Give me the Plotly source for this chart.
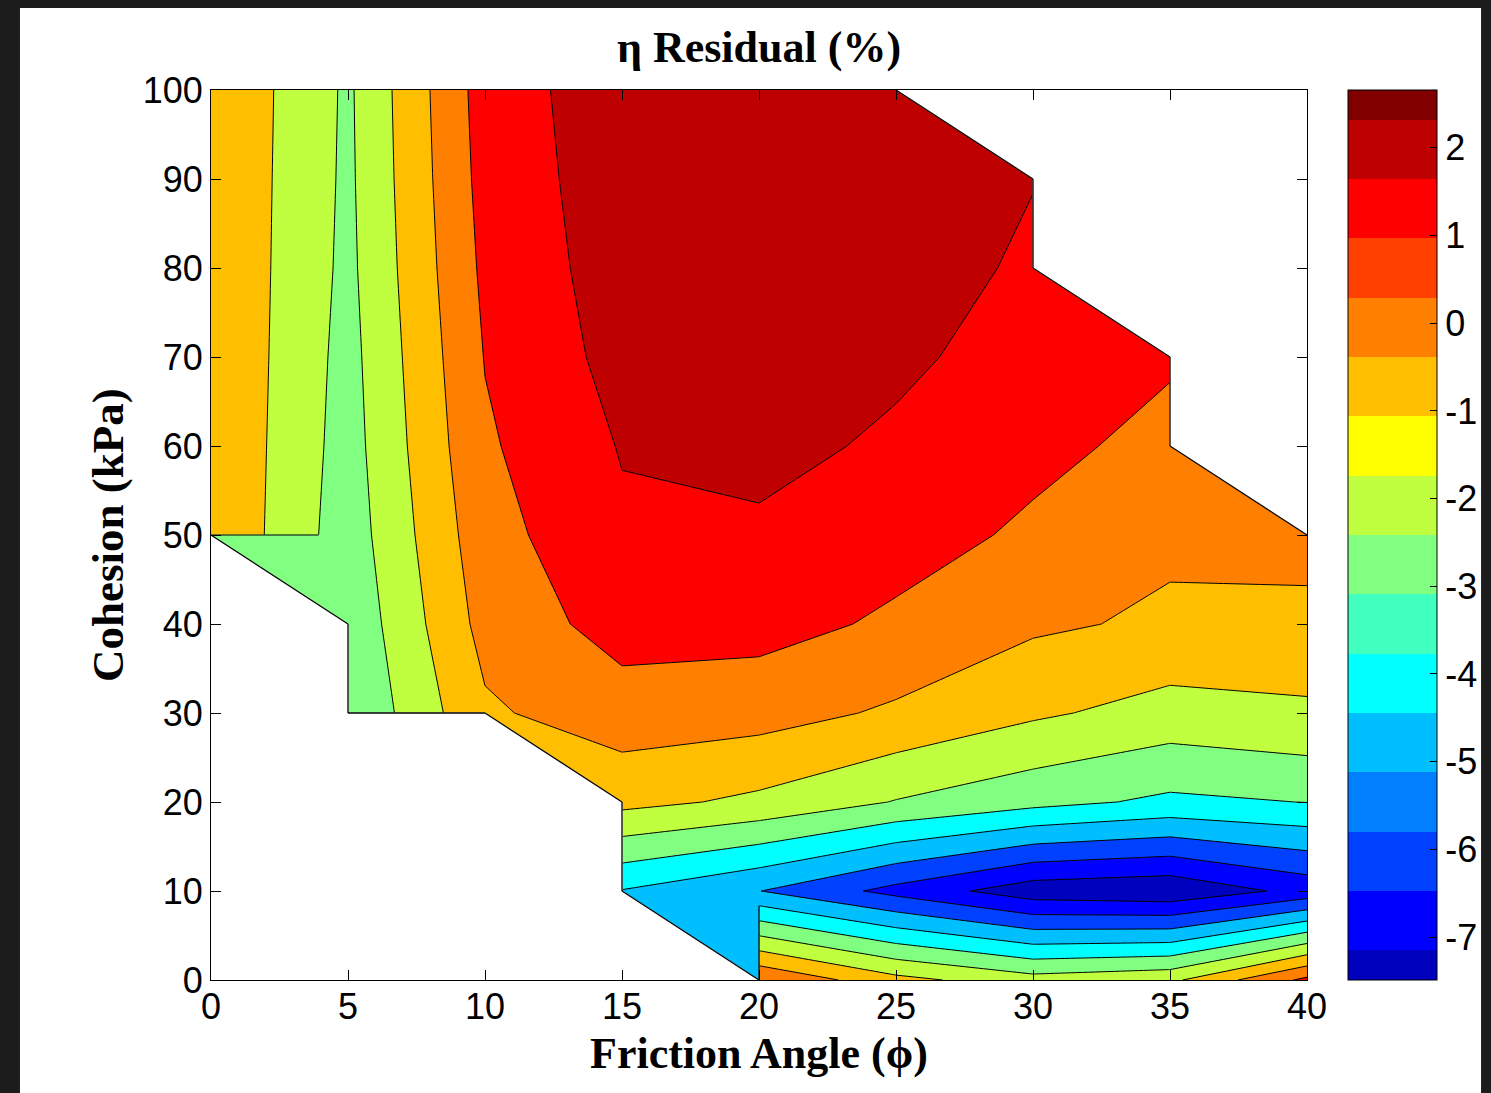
import numpy as np
import plotly.graph_objects as go

# ---------------- data ----------------
friction_angle = [0, 5, 10, 15, 20, 25, 30, 35, 40]          # x grid (deg)
cohesion = [0, 10, 20, 30, 40, 50, 60, 70, 80, 90, 100]        # y grid (kPa)
nan = None
# eta residual (%) along each cohesion row, columns follow friction_angle
res_c0 = [nan, nan, nan, nan, 0.95, -0.69, -1.60, -1.23, 1.25]
res_c10 = [nan, nan, nan, -4.05, -4.98, -6.32, -7.58, -7.80, -6.67]
res_c20 = [nan, nan, nan, -0.70, -1.21, -2.05, -2.68, -3.20, -2.98]
res_c30 = [nan, -2.95, -0.15, 0.55, 0.40, -0.15, -0.84, -1.38, -1.10]
res_c40 = [nan, -2.76, 0.34, 1.40, 1.35, 0.84, 0.16, -0.16, -0.56]
res_c50 = [-0.02, -2.54, 0.61, 1.84, 1.81, 1.37, 0.85, 0.18, 0.74]
res_c60 = [-0.03, -2.42, 0.86, 2.06, 2.34, 1.81, 1.23, 0.75, nan]
res_c70 = [-0.02, -2.34, 1.04, 2.34, 2.50, 2.21, 1.55, 1.10, nan]
res_c80 = [-0.04, -2.24, 1.21, 2.48, 2.58, 2.43, 1.85, nan, nan]
res_c90 = [-0.04, -2.19, 1.35, 2.55, 2.62, 2.45, 2.03, nan, nan]
res_c100 = [-0.02, -2.16, 1.45, 2.60, 2.66, 2.40, nan, nan, nan]

contour_levels = [-7, -6, -5, -4, -3, -2, -1, 0, 1, 2]
colorbar_ticks = [-7, -6, -5, -4, -3, -2, -1, 0, 1, 2]
colorbar_limits = [-7.49, 2.66]
x_ticks = [0, 5, 10, 15, 20, 25, 30, 35, 40]
y_ticks = [0, 10, 20, 30, 40, 50, 60, 70, 80, 90, 100]

# MATLAB jet(16)
jet16 = ["#0000BF", "#0000FF", "#0040FF", "#0080FF", "#00BFFF", "#00FFFF",
         "#40FFBF", "#80FF80", "#BFFF40", "#FFFF00", "#FFBF00", "#FF8000",
         "#FF4000", "#FF0000", "#BF0000", "#800000"]

# ---------------- build ----------------
Z = np.array([res_c0, res_c10, res_c20, res_c30, res_c40, res_c50,
              res_c60, res_c70, res_c80, res_c90, res_c100], dtype=float)
ny, nx = Z.shape
cmin, cmax = colorbar_limits
levels = np.array(contour_levels, dtype=float)

# band colours: band value mapped onto the 16-colour map like MATLAB does
band_lows = [cmin] + contour_levels
band_cols = [jet16[int(round((v - cmin) / (cmax - cmin) * 15))] for v in band_lows]
nb = len(band_cols)
fill_scale = [[k / (nb - 1), c] for k, c in enumerate(band_cols)]


def band_of(v):
    return int(np.searchsorted(levels, v, side="right"))


# colourbar scale: 16 colours, half-width bands at both ends
cb_scale = []
for k, c in enumerate(jet16):
    lo = 0.0 if k == 0 else (k - 0.5) / 15
    hi = 1.0 if k == 15 else (k + 0.5) / 15
    cb_scale.append([lo, c])
    cb_scale.append([hi, c])

z_plot = [[None if np.isnan(v) else float(v) for v in row] for row in Z]

fig = go.Figure()
fig.add_trace(go.Contour(
    x=friction_angle, y=cohesion, z=z_plot, connectgaps=True,
    contours=dict(start=contour_levels[0], end=contour_levels[-1],
                  size=contour_levels[1] - contour_levels[0],
                  coloring="fill", showlines=True),
    line=dict(color="black", width=1, smoothing=0),
    colorscale=fill_scale, showscale=False, hoverinfo="skip"))


def pt(node):
    return friction_angle[node[1]], cohesion[node[0]]


# ---- cells touching missing data (MATLAB-like treatment) ----
valid = ~np.isnan(Z)
pieces = []          # removed parts of cells
flat_tris = []       # (triangle, colour) for partial cells whose contours dangle
edge_lines_x, edge_lines_y = [], []
for i in range(ny - 1):
    for j in range(nx - 1):
        corners = [(i, j), (i, j + 1), (i + 1, j + 1), (i + 1, j)]
        miss = [k for k, (a, b) in enumerate(corners) if not valid[a, b]]
        if len(miss) >= 2:
            pieces.append(corners)
        elif len(miss) == 1:
            k = miss[0]
            pieces.append([corners[k - 1], corners[k], corners[(k + 1) % 4]])
            p1, po, p3 = corners[(k + 1) % 4], corners[(k + 2) % 4], corners[(k + 3) % 4]
            z1, zo, z3 = Z[p1], Z[po], Z[p3]
            cross1 = {L for L in levels if min(z1, zo) < L <= max(z1, zo)}
            cross2 = {L for L in levels if min(zo, z3) < L <= max(zo, z3)}
            if cross1 ^ cross2:
                b = band_of(zo)
                flat_tris.append(([p1, po, p3], band_cols[b]))
                lo = -np.inf if b == 0 else levels[b - 1]
                hi = np.inf if b == len(levels) else levels[b]
                for (pa, pb) in [(po, p1), (po, p3)]:
                    za, zb = Z[pa], Z[pb]
                    if za == zb:
                        continue
                    ts = sorted([(lo - za) / (zb - za), (hi - za) / (zb - za)])
                    t_in0, t_in1 = max(0.0, ts[0]), min(1.0, ts[1])
                    (xa, ya), (xb, yb) = pt(pa), pt(pb)
                    for s0, s1 in [(0.0, t_in0), (t_in1, 1.0)]:
                        if s1 - s0 > 1e-6:
                            edge_lines_x += [xa + (xb - xa) * s0, xa + (xb - xa) * s1, None]
                            edge_lines_y += [ya + (yb - ya) * s0, ya + (yb - ya) * s1, None]

for tri, col in flat_tris:
    xs = [pt(p)[0] for p in tri] + [pt(tri[0])[0]]
    ys = [pt(p)[1] for p in tri] + [pt(tri[0])[1]]
    fig.add_trace(go.Scatter(x=xs, y=ys, mode="lines", fill="toself",
                             fillcolor=col, line=dict(color=col, width=1),
                             hoverinfo="skip", showlegend=False))
if edge_lines_x:
    fig.add_trace(go.Scatter(x=edge_lines_x, y=edge_lines_y, mode="lines",
                             line=dict(color="black", width=1.2),
                             hoverinfo="skip", showlegend=False))

mx, my = [], []
edge_count = {}
for poly in pieces:
    for node in poly + [poly[0]]:
        x, y = pt(node)
        mx.append(x); my.append(y)
    mx.append(None); my.append(None)
    for q in range(len(poly)):
        e = frozenset([poly[q], poly[(q + 1) % len(poly)]])
        edge_count[e] = edge_count.get(e, 0) + 1


def on_frame(p, q):
    return ((p[0] == q[0] and p[0] in (0, ny - 1)) or
            (p[1] == q[1] and p[1] in (0, nx - 1)))


bx, by = [], []
for e, n in edge_count.items():
    p, q = tuple(e)
    if n == 1 and not on_frame(p, q):
        bx += [pt(p)[0], pt(q)[0], None]
        by += [pt(p)[1], pt(q)[1], None]

fig.add_trace(go.Scatter(x=mx, y=my, mode="lines", fill="toself",
                         fillcolor="white", line=dict(color="white", width=1),
                         hoverinfo="skip", showlegend=False))
fig.add_trace(go.Scatter(x=bx, y=by, mode="lines",
                         line=dict(color="black", width=1.3),
                         hoverinfo="skip", showlegend=False))

# colourbar carrier
fig.add_trace(go.Scatter(
    x=[friction_angle[0]], y=[cohesion[0]], mode="markers",
    marker=dict(size=1, opacity=0, color=[cmin], cmin=cmin, cmax=cmax,
                colorscale=cb_scale, showscale=True,
                colorbar=dict(x=1.0374, xanchor="left", y=0.5, yanchor="middle",
                              len=1, lenmode="fraction", thickness=89,
                              thicknessmode="pixels", xpad=0, ypad=0,
                              outlinewidth=1, outlinecolor="black",
                              tickvals=colorbar_ticks,
                              ticktext=[str(v) for v in colorbar_ticks],
                              ticks="inside", ticklen=7, tickcolor="black",
                              tickfont=dict(family="Liberation Sans", size=36,
                                            color="black"))),
    hoverinfo="skip", showlegend=False))

axis_common = dict(showline=True, linecolor="black", linewidth=1, mirror="ticks",
                   ticks="inside", ticklen=10, tickcolor="black", showgrid=False,
                   zeroline=False,
                   tickfont=dict(family="Liberation Sans", size=36, color="black"))

fig.update_layout(
    width=1491, height=1093,
    margin=dict(l=211, r=184, t=90, b=113, autoexpand=False),
    paper_bgcolor="#1c1c1c", plot_bgcolor="white",
    hovermode=False, showlegend=False,
    xaxis=dict(range=[0, 40], tickvals=x_ticks, ticklabelstandoff=-5, **axis_common),
    yaxis=dict(range=[0, 100], tickvals=y_ticks, **axis_common),
    title=dict(text="<b>η Residual (%)</b>", x=0.5, xref="paper", xanchor="center",
               y=1 - 47 / 1093, yref="container", yanchor="middle",
               font=dict(family="Liberation Serif", size=44, color="black")),
    shapes=[dict(type="rect", xref="paper", yref="paper", x0=-0.1743, x1=1.1588,
                 y0=-0.14, y1=1.0921, fillcolor="white", line=dict(width=0),
                 layer="below")],
    annotations=[
        dict(text="<b>Friction Angle (ϕ)</b>", xref="paper", yref="paper",
             x=0.5, y=-(1053 - 980) / 890, xanchor="center", yanchor="middle",
             showarrow=False,
             font=dict(family="Liberation Serif", size=44, color="black")),
        dict(text="<b>Cohesion (kPa)</b>", xref="paper", yref="paper",
             x=-(211 - 108) / 1096, y=0.5, xanchor="center", yanchor="middle",
             textangle=-90, showarrow=False,
             font=dict(family="Liberation Serif", size=45, color="black")),
    ],
)

fig.write_html("out.html", config={"displayModeBar": False},
               post_script="document.body.style.margin='0px';"
                           "document.body.style.background='#1c1c1c';")
